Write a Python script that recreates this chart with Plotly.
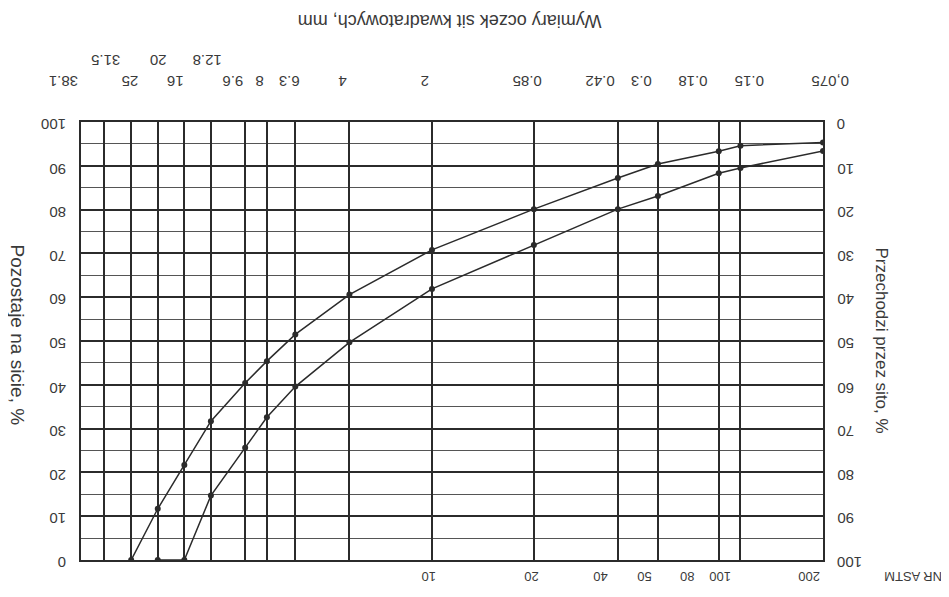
import math
import plotly.graph_objects as go

# sieve openings, mm (top axis) - a vertical grid line at every one of them
sizes_top = [38.1, 31.5, 25, 20, 16, 12.8, 9.6, 8, 6.3, 4, 2, 0.85, 0.42, 0.3, 0.18, 0.15, 0.075]
# first row of top labels
row1_sizes = [38.1, 25, 16, 9.6, 8, 6.3, 4, 2, 0.85, 0.42, 0.3, 0.18, 0.15, 0.075]
row1_labels = ["38.1", "25", "16", "9.6", "8", "6.3", "4", "2", "0.85", "0.42", "0.3", "0.18", "0.15", "0,075"]
# second row of top labels
row2_sizes = [31.5, 20, 12.8]
row2_labels = ["31.5", "20", "12.8"]

# ASTM sieve numbers on the bottom
astm_sizes = [2, 0.85, 0.42, 0.3, 0.18, 0.15, 0.075]
astm_numbers = ["10", "20", "40", "50", "80", "100", "200"]

pct_ticks = [0, 10, 20, 30, 40, 50, 60, 70, 80, 90, 100]

# grading curves, % retained on sieve
upper_sizes = [0.075, 0.15, 0.18, 0.3, 0.42, 0.85, 2, 4, 6.3, 8, 9.6, 12.8, 16, 20, 25]
upper_retained = [95.3, 94.6, 93.3, 90.4, 87.2, 80.1, 70.8, 60.6, 51.5, 45.4, 40.4, 31.7, 21.7, 11.7, 0]

lower_sizes = [0.075, 0.15, 0.18, 0.3, 0.42, 0.85, 2, 4, 6.3, 8, 9.6, 12.8, 16, 20]
lower_retained = [93.4, 89.5, 88.3, 83.1, 80.1, 71.9, 61.9, 49.7, 39.6, 32.6, 25.6, 14.7, 0, 0]

# the printed labels don't sit exactly on their lines (px nudges)
top_nudge = {"38.1": -17, "25": -1, "16": -9, "9.6": -12, "8": -7, "6.3": -6, "4": -7, "2": -7,
             "0.85": -7, "0.42": -18, "0.3": -17, "0.18": -26, "0.15": 9, "0,075": 7,
             "31.5": 2, "12.8": -4}
bottom_nudge = {"10": -3, "20": -2, "40": -17, "50": -13, "80": -31, "100": -21, "200": -14}

ink = "#2b2b2b"
text_col = "#3a3a3a"
font = dict(family="Liberation Sans, Arial, sans-serif", size=15, color=text_col)

fig = go.Figure()

for xs, ys in [(upper_sizes, upper_retained), (lower_sizes, lower_retained)]:
    fig.add_trace(go.Scatter(
        x=xs, y=ys, mode="lines+markers",
        line=dict(color=ink, width=1.5),
        marker=dict(color=ink, size=6),
        showlegend=False, hoverinfo="skip"
    ))

# invisible helper so the reversed right axis is drawn
fig.add_trace(go.Scatter(x=[sizes_top[0]], y=[None], yaxis="y2",
                         mode="markers", showlegend=False, hoverinfo="skip"))

xr = [math.log10(sizes_top[0]), math.log10(sizes_top[-1])]

annotations = []
for s, lab in zip(row1_sizes, row1_labels):
    annotations.append(dict(text=lab, x=math.log10(s), xref="x", y=1, yref="paper",
                            yshift=40, xshift=top_nudge.get(lab, 0), showarrow=False,
                            textangle=180, xanchor="center", yanchor="middle"))
for s, lab in zip(row2_sizes, row2_labels):
    annotations.append(dict(text=lab, x=math.log10(s), xref="x", y=1, yref="paper",
                            yshift=61, xshift=top_nudge.get(lab, 0), showarrow=False,
                            textangle=180, xanchor="center", yanchor="middle"))
for s, lab in zip(astm_sizes, astm_numbers):
    annotations.append(dict(text=lab, x=math.log10(s), xref="x", y=0, yref="paper",
                            yshift=-17, xshift=bottom_nudge.get(lab, 0), showarrow=False,
                            textangle=180, xanchor="center", yanchor="middle",
                            font=dict(size=13)))
for v in pct_ticks:
    annotations.append(dict(text=str(v), x=0, xref="paper", y=v, yref="y",
                            xshift=-13, yshift=-3, showarrow=False, textangle=180,
                            xanchor="right", yanchor="middle"))
    annotations.append(dict(text=str(v), x=1, xref="paper", y=v, yref="y2",
                            xshift=12, yshift=-3, showarrow=False, textangle=180,
                            xanchor="left", yanchor="middle"))

annotations += [
    dict(text="Wymiary oczek sit kwadratowych, mm", xref="paper", yref="paper",
         x=0.497, y=1, yshift=101, yanchor="middle", showarrow=False, textangle=180,
         borderpad=0, font=dict(size=18)),
    dict(text="Pozostaje na sicie, %", xref="paper", yref="paper",
         x=0, xshift=-76, y=0.5, yshift=6, showarrow=False, textangle=90,
         font=dict(size=19)),
    dict(text="Przechodzi przez sito, %", xref="paper", yref="paper",
         x=1, xshift=70, y=0.5, yshift=1, showarrow=False, textangle=90,
         font=dict(size=17)),
    dict(text="NR ASTM", xref="paper", yref="paper",
         x=1, xshift=90, y=0, yshift=-17, xanchor="center", yanchor="middle",
         showarrow=False, textangle=180, font=dict(size=13)),
]

# the page body keeps an 8px margin, so the figure is 8px smaller than the window
fig.update_layout(
    width=941, height=589,
    margin=dict(l=73, r=126, t=114, b=37),
    paper_bgcolor="white", plot_bgcolor="white",
    font=font,
    xaxis=dict(
        type="log", range=xr, tickvals=sizes_top, showticklabels=False,
        showgrid=True, gridcolor=ink, gridwidth=1.6, zeroline=False, ticks="",
        showline=True, mirror=True, linecolor=ink, linewidth=2, automargin=False
    ),
    yaxis=dict(
        range=[0, 100], tickvals=pct_ticks, showticklabels=False,
        showgrid=True, gridcolor=ink, gridwidth=1.6, zeroline=False, ticks="",
        minor=dict(dtick=5, showgrid=True, gridcolor="#555555", gridwidth=1),
        showline=True, mirror=True, linecolor=ink, linewidth=2, automargin=False
    ),
    yaxis2=dict(
        range=[100, 0], overlaying="y", side="right", anchor="x",
        showticklabels=False, showgrid=False, zeroline=False, ticks="",
        showline=False, automargin=False
    ),
    annotations=annotations,
)

fig.write_html("out.html")
